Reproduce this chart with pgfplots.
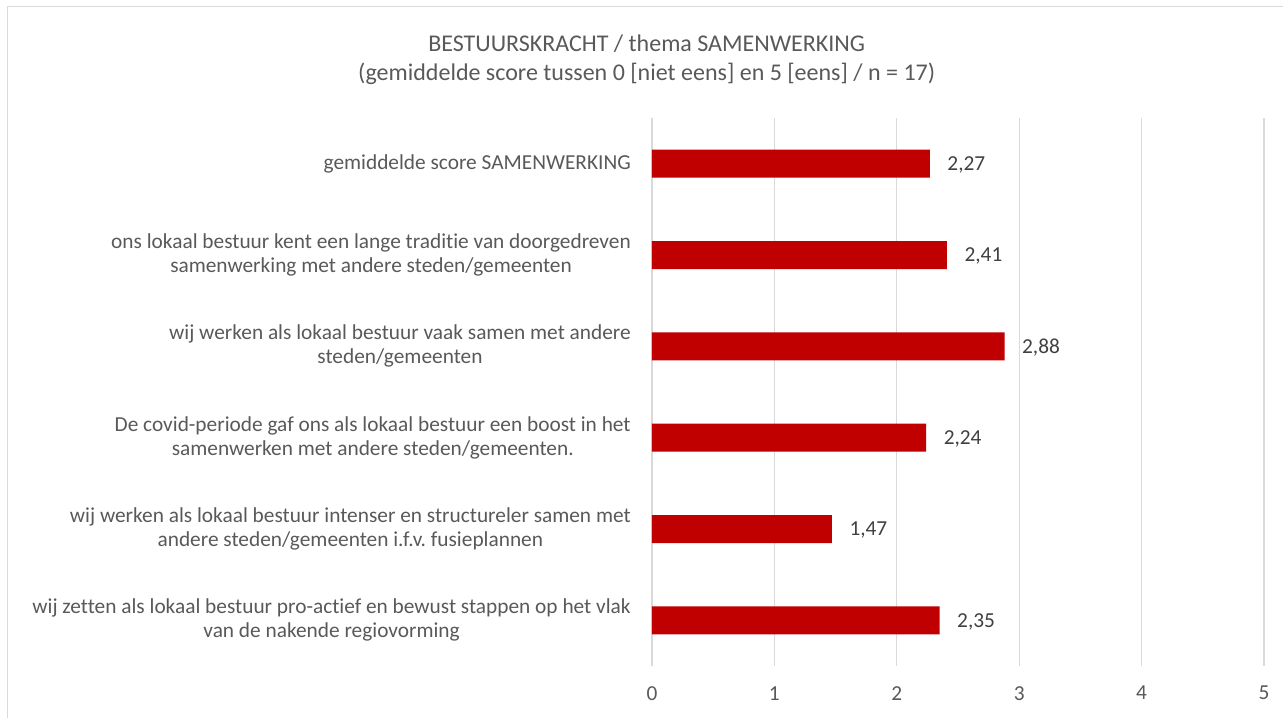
\documentclass[border=0pt]{standalone}
\usepackage{fontspec}
\setmainfont{Carlito}[Ligatures={NoCommon}]
\frenchspacing
\usepackage{pgfplots}
\pgfplotsset{compat=1.18}
\definecolor{txt}{HTML}{595959}
\definecolor{lbl}{HTML}{404040}
\definecolor{grd}{HTML}{D9D9D9}
\definecolor{bar}{HTML}{C00000}
\begin{document}
\frenchspacing
\begin{tikzpicture}
\useasboundingbox (0,0) rectangle (962.25pt,538.5pt);
\draw[grd, line width=1.2pt] (5.6pt,0) -- (5.6pt,533.6pt) -- (962.25pt,533.6pt);
\node[txt, align=center, font=\fontsize{18}{21.75}\selectfont] at (485pt,494pt) {BESTUURSKRACHT / thema SAMENWERKING\\(gemiddelde score tussen 0 [niet eens] en 5 [eens] / n = 17)};
\begin{axis}[
  at={(489pt,39pt)}, anchor=south west,
  scale only axis, width=459pt, height=411pt,
  xmin=0, xmax=5, ymin=-0.5, ymax=5.5, y dir=reverse,
  axis line style={draw=none},
  xtick={0,...,5}, ytick={0,...,5},
  major tick length=0pt,
  xmajorgrids, grid style={grd, line width=0.9pt},
  /pgf/number format/assume math mode=true,
  tick label style={txt, font=\fontsize{16}{18}\selectfont\frenchspacing},
  xticklabel style={inner sep=0pt, yshift=-15pt},
  yticklabel style={align=center, anchor=east, inner sep=0pt, xshift=-15.75pt},
  yticklabels={
    gemiddelde score SAMENWERKING,
    {ons lokaal bestuur kent een lange traditie van doorgedreven\\samenwerking met andere steden/gemeenten},
    {wij werken als lokaal bestuur vaak samen met andere\\steden/gemeenten},
    {De covid-periode gaf ons als lokaal bestuur een boost in het\\samenwerken met andere steden/gemeenten.},
    {wij werken als lokaal bestuur intenser en structureler samen met\\andere steden/gemeenten i.f.v. fusieplannen},
    {wij zetten als lokaal bestuur pro-actief en bewust stappen op het vlak\\van de nakende regiovorming}
  },
  xbar, bar width=21pt,
  nodes near coords,
  nodes near coords style={lbl, font=\fontsize{16}{18}\selectfont, anchor=west, inner sep=0pt, xshift=13pt, yshift=-1pt,
    /pgf/number format/.cd, fixed, fixed zerofill, precision=2, use comma, assume math mode=true},
]
\addplot[fill=bar, draw=none] coordinates {
  (2.27,0) (2.41,1) (2.88,2) (2.24,3) (1.47,4) (2.35,5)
};
\end{axis}
\end{tikzpicture}
\end{document}
